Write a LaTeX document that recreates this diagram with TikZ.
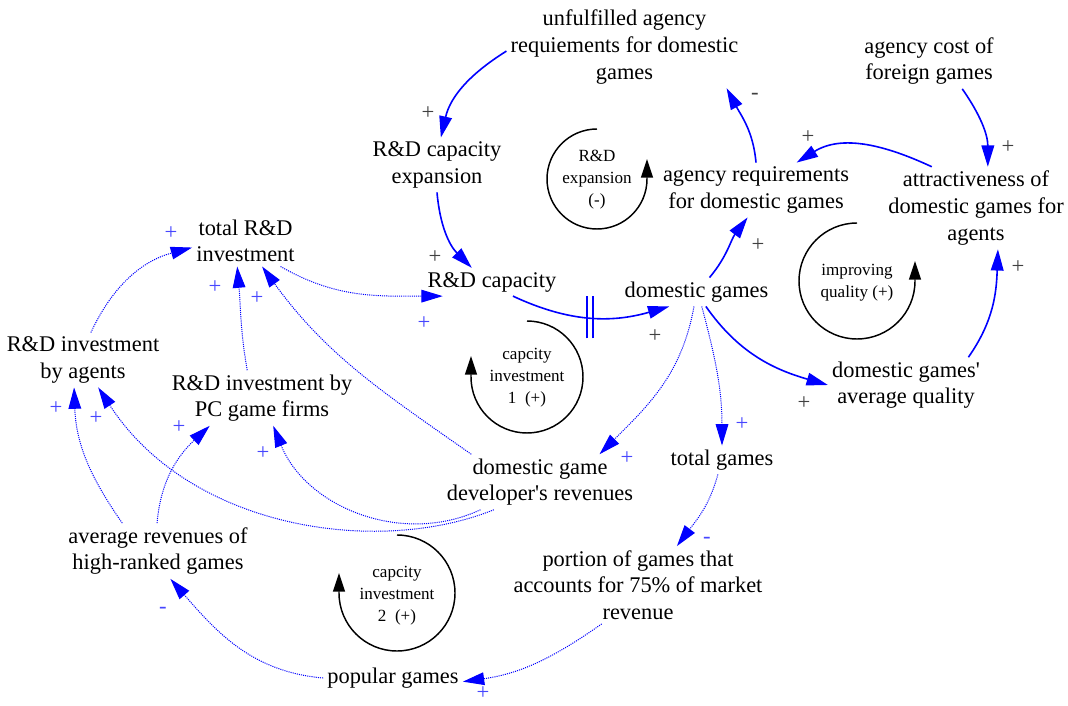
\documentclass[tikz,border=0pt]{standalone}
\usepackage{fontspec}
\setmainfont{Liberation Serif}
\usetikzlibrary{arrows.meta}
\definecolor{signgray}{RGB}{64,64,64}
\definecolor{signblue}{RGB}{70,70,255}

\begin{document}
\begin{tikzpicture}[x=0.75pt,y=0.75pt,
		var/.style={align=center,inner sep=3pt,font=\fontsize{16.8}{20}\selectfont},
		looplabel/.style={align=center,inner sep=1pt,font=\fontsize{12.8}{16.5}\selectfont},
		link/.style={draw=blue,line width=1.2pt,-{Triangle[length=16pt,width=9.5pt]}},
		infolink/.style={draw=blue,line width=0.75pt,dash pattern=on 0.8pt off 0.8pt,-{Triangle[length=16pt,width=9.5pt]}},
		delaymark/.style={draw=blue,line width=1.2pt},
		loopline/.style={draw=black,line width=1.1pt,-{Triangle[length=14pt,width=9pt]}},
		polar/.style={text=signgray,inner sep=0pt,font=\fontsize{17}{18}\selectfont},
		infopolar/.style={text=signblue,inner sep=0pt,font=\fontsize{17}{18}\selectfont}]
		%%%%% START %%%%%
		
		\useasboundingbox (0,0) rectangle (1068,-706);
		
		% variables
		\node[var] (unf) at (624.5,-47) {unfulfilled agency\\requiements for domestic\\games};
		\node[var] (acost) at (929,-61) {agency cost of\\foreign games};
		\node[var] (rdexp) at (437,-165) {R\&D capacity\\expansion};
		\node[var] (areq) at (756,-190) {agency requirements\\for domestic games};
		\node[var] (attr) at (976,-208) {attractiveness of\\domestic games for\\agents};
		\node[var] (totrd) at (245.5,-241) {total R\&D\\investment};
		\node[var] (rdcap) at (492,-282) {R\&D capacity};
		\node[var] (dg) at (696.5,-292) {domestic games};
		\node[var] (rdag) at (83,-360) {R\&D investment\\by agents};
		\node[var] (rdpc) at (262,-398) {R\&D investment by\\PC game firms};
		\node[var] (avgq) at (906,-385) {domestic games\textquotesingle\\average quality};
		\node[var] (dgrev) at (540,-482) {domestic game\\developer\textquotesingle s revenues};
		\node[var] (totg) at (722,-460) {total games};
		\node[var] (avrev) at (158,-551) {average revenues of\\high-ranked games};
		\node[var] (portion) at (638,-585) {portion of games that\\accounts for 75\% of market\\revenue};
		\node[var] (pop) at (393,-678) {popular games};
		
		% loops
		\draw[loopline] (597,-129) arc[start angle=90,end angle=360,radius=50] -- ++(0,20);
		\node[looplabel] (lexp) at (597,-180) {R\&D\\expansion\\(-)};
		\draw[loopline] (527,-321) arc[start angle=90,end angle=-180,radius=56] -- ++(0,21);
		\node[looplabel] (lcap1) at (527,-378) {capcity\\investment\\1\ \ (+)};
		\draw[loopline] (857,-223) arc[start angle=90,end angle=360,radius=58] -- ++(0,20);
		\node[looplabel] (lqual) at (857,-283) {improving\\quality (+)};
		\draw[loopline] (397,-535) arc[start angle=90,end angle=-180,radius=58] -- ++(0,20);
		\node[looplabel] (lcap2) at (397,-596) {capcity\\investment\\2\ \ (+)};
		
		% causal links
		\draw[link] (unf.182) to[out=212,in=77] (rdexp.82);
		\draw[link] (rdexp.south) to[out=-85,in=135] (rdcap.145);
		\draw[link] (rdcap.-34) to[out=-25,in=196] coordinate[pos=0.5] (dly) (dg.208);
		\draw[delaymark] (dly) ++(-3,-21) -- ++(0,42) (dly) ++(3,-21) -- ++(0,42);
		\draw[link] (dg.48) to[out=50,in=233] (areq.253);
		\draw[link] (areq.north) to[out=95,in=-62] (unf.-22);
		\draw[link] (attr.137) to[out=155,in=32] (areq.34);
		\draw[link] (acost.-40) to[out=-55,in=90] (attr.74);
		\draw[link] (avgq.24) to[out=55,in=268] (attr.-62);
		\draw[link] (dg.-57) to[out=-55,in=164] (avgq.west);
		
		\draw[infolink] (totrd.-36) to[out=-30,in=180] (rdcap.196);
		\draw[infolink] (rdag.74) to[out=65,in=195] (totrd.187);
		\draw[infolink] (rdpc.118) to[out=100,in=275] (totrd.252);
		\draw[infolink] (dgrev.158) to[out=145,in=-54] (totrd.-57);
		\draw[infolink] (dgrev.205) to[out=205,in=-68] (rdpc.-68);
		\draw[infolink] (dgrev.211) .. controls +(202:124) and +(-57:170) .. (rdag.-61);
		\draw[infolink] (avrev.142) to[out=125,in=-88] (rdag.252);
		\draw[infolink] (avrev.92) to[out=85,in=223] (rdpc.208);
		\draw[infolink] (pop.west) to[out=175,in=-49] (avrev.-66);
		\draw[infolink] (dg.260) to[out=260,in=45] (dgrev.25);
		\draw[infolink] (dg.-70) to[out=-75,in=90] (totg.north);
		\draw[infolink] (totg.254) to[out=255,in=53] (portion.45);
		\draw[infolink] (portion.227) to[out=215,in=8] (pop.-3);
		
		% polarities
		\node[polar] (sa) at (428,-113) {+};
		\node[polar] (sb) at (435,-257) {+};
		\node[polar] (sc) at (655,-336) {+};
		\node[polar] (sd) at (758,-245) {+};
		\node[polar] (se) at (755,-96) {-};
		\node[polar] (sf) at (808,-137) {+};
		\node[polar] (sg) at (1008,-147) {+};
		\node[polar] (sh) at (1018,-267) {+};
		\node[polar] (si) at (804,-403) {+};
		
		\node[infopolar] (sj) at (424,-323) {+};
		\node[infopolar] (sk) at (171,-233) {+};
		\node[infopolar] (sl) at (215,-287) {+};
		\node[infopolar] (sm) at (257,-298) {+};
		\node[infopolar] (sn) at (263,-453) {+};
		\node[infopolar] (so) at (96,-418) {+};
		\node[infopolar] (sp) at (56,-408) {+};
		\node[infopolar] (sq) at (179,-427) {+};
		\node[infopolar] (sr) at (163,-610) {-};
		\node[infopolar] (ss) at (627,-458) {+};
		\node[infopolar] (st) at (742,-424) {+};
		\node[infopolar] (su) at (707,-540) {-};
		\node[infopolar] (sv) at (483,-693) {+};
		
		%%%%% END %%%%%
	\end{tikzpicture}
\end{document}
